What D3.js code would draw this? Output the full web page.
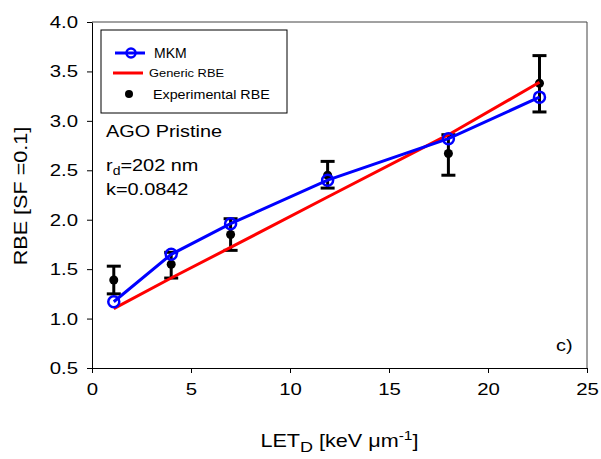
<!DOCTYPE html>
<html>
<head>
<meta charset="utf-8">
<script src="https://cdn.jsdelivr.net/npm/d3@7/dist/d3.min.js"></script>
<style>
body{margin:0;background:#fff;}
text{font-family:Arial,"Liberation Sans",sans-serif;}
</style>
</head>
<body>
<svg id="chart" width="601" height="459"></svg>
<script>
const letValues = [1.1, 4.0, 7.0, 11.9, 18.0, 22.6];
const mkmRBE = [1.17, 1.65, 1.96, 2.40, 2.82, 3.24];
const genericRBE = [1.10, 1.41, 1.72, 2.23, 2.86, 3.39];
const expRBE = [1.39, 1.55, 1.85, 2.45, 2.67, 3.38];
const expErrLow = [1.25, 1.41, 1.69, 2.32, 2.45, 3.09];
const expErrHigh = [1.53, 1.67, 2.01, 2.59, 2.86, 3.66];
const xTicks = [0, 5, 10, 15, 20, 25];
const yTicks = [0.5, 1.0, 1.5, 2.0, 2.5, 3.0, 3.5, 4.0];

const SX = 1.2; // reference glyphs are wider than Liberation Sans
function stretch(sel, sx) {
  sel.each(function() {
    const t = d3.select(this);
    const x0 = +t.attr("x") || 0;
    const y0 = +t.attr("y") || 0;
    t.attr("transform", `translate(${x0},${y0}) scale(${sx},1) translate(${-x0},${-y0})`);
  });
}

const svg = d3.select("#chart");
const m = {left: 92, right: 587, top: 22, bottom: 368};
const x = d3.scaleLinear().domain([0, 25]).range([m.left, m.right]);
const y = d3.scaleLinear().domain([0.5, 4.0]).range([m.bottom, m.top]);

// frame top/right
svg.append("line").attr("x1", m.left).attr("x2", m.right).attr("y1", m.top).attr("y2", m.top).attr("stroke", "#444").attr("stroke-width", 1);
svg.append("line").attr("x1", m.right).attr("x2", m.right).attr("y1", m.top).attr("y2", m.bottom).attr("stroke", "#444").attr("stroke-width", 1);

const xAxis = svg.append("g").attr("transform", `translate(0,${m.bottom})`)
  .call(d3.axisBottom(x).tickValues(xTicks).tickFormat(d3.format("d")).tickSize(5).tickPadding(10).tickSizeOuter(0));
const yAxis = svg.append("g").attr("transform", `translate(${m.left},0)`)
  .call(d3.axisLeft(y).tickValues(yTicks).tickFormat(d3.format(".1f")).tickSize(5).tickPadding(9).tickSizeOuter(0));
[xAxis, yAxis].forEach(a => {
  a.selectAll("text").attr("font-size", 17).attr("fill", "#000").attr("font-family", "Arial, 'Liberation Sans', sans-serif");
  a.selectAll("line, path").attr("stroke", "#000");
  stretch(a.selectAll("text"), SX);
});

// axis titles
const xt = svg.append("text").attr("x", (m.left + m.right) / 2).attr("y", 447).attr("text-anchor", "middle").attr("font-size", 18);
xt.append("tspan").text("LET");
xt.append("tspan").attr("font-size", 15).attr("dy", 5).text("D");
xt.append("tspan").attr("dy", -5).text(" [keV \u03BCm");
xt.append("tspan").attr("font-size", 13).attr("dy", -7).text("-1");
xt.append("tspan").attr("dy", 7).text("]");
stretch(xt, SX);

svg.append("text").attr("transform", `translate(27,196) rotate(-90) scale(${SX},1)`).attr("text-anchor", "middle").attr("font-size", 18).text("RBE [SF =0.1]");

// experimental error bars and points
const exp = svg.append("g");
letValues.forEach((v, i) => {
  exp.append("line").attr("x1", x(v)).attr("x2", x(v)).attr("y1", y(expErrLow[i])).attr("y2", y(expErrHigh[i])).attr("stroke", "#000").attr("stroke-width", 3);
  [expErrLow[i], expErrHigh[i]].forEach(e => {
    exp.append("line").attr("x1", x(v) - 7).attr("x2", x(v) + 7).attr("y1", y(e)).attr("y2", y(e)).attr("stroke", "#000").attr("stroke-width", 3);
  });
  exp.append("circle").attr("cx", x(v)).attr("cy", y(expRBE[i])).attr("r", 4.5).attr("fill", "#000");
});

const line = d3.line().x(d => x(d[0])).y(d => y(d[1]));
svg.append("path").datum(letValues.map((v, i) => [v, genericRBE[i]])).attr("d", line).attr("fill", "none").attr("stroke", "#ff0000").attr("stroke-width", 3);
svg.append("path").datum(letValues.map((v, i) => [v, mkmRBE[i]])).attr("d", line).attr("fill", "none").attr("stroke", "#0000ff").attr("stroke-width", 3);
svg.selectAll(".mkm").data(letValues).enter().append("circle")
  .attr("cx", d => x(d)).attr("cy", (d, i) => y(mkmRBE[i])).attr("r", 5.5)
  .attr("fill", "none").attr("stroke", "#0000ff").attr("stroke-width", 2.5);

// legend
const lg = svg.append("g");
lg.append("rect").attr("x", 101).attr("y", 30).attr("width", 186).attr("height", 83).attr("fill", "#fff").attr("stroke", "#000").attr("stroke-width", 1);
lg.append("line").attr("x1", 115).attr("x2", 145).attr("y1", 53).attr("y2", 53).attr("stroke", "#0000ff").attr("stroke-width", 3);
lg.append("circle").attr("cx", 131).attr("cy", 53).attr("r", 4.5).attr("fill", "none").attr("stroke", "#0000ff").attr("stroke-width", 2.5);
lg.append("text").attr("x", 154).attr("y", 58).attr("font-size", 14).text("MKM");
lg.append("line").attr("x1", 113).attr("x2", 143).attr("y1", 73).attr("y2", 73).attr("stroke", "#ff0000").attr("stroke-width", 3);
stretch(lg.append("text").attr("x", 149).attr("y", 77).attr("font-size", 11).text("Generic RBE"), 1.17);
lg.append("circle").attr("cx", 129).attr("cy", 94).attr("r", 4).attr("fill", "#000");
stretch(lg.append("text").attr("x", 153).attr("y", 99).attr("font-size", 13).text("Experimental RBE"), 1.1);

// annotations
stretch(svg.append("text").attr("x", 106).attr("y", 137).attr("font-size", 17).text("AGO Pristine"), 1.17);
const rd = svg.append("text").attr("x", 106).attr("y", 171).attr("font-size", 17);
rd.append("tspan").text("r");
rd.append("tspan").attr("font-size", 12).attr("dy", 4).text("d");
rd.append("tspan").attr("dy", -4).text("=202 nm");
stretch(rd, 1.17);
stretch(svg.append("text").attr("x", 106).attr("y", 195).attr("font-size", 17).text("k=0.0842"), 1.17);
stretch(svg.append("text").attr("x", 556).attr("y", 351).attr("font-size", 17).text("c)"), 1.17);
</script>
</body>
</html>
